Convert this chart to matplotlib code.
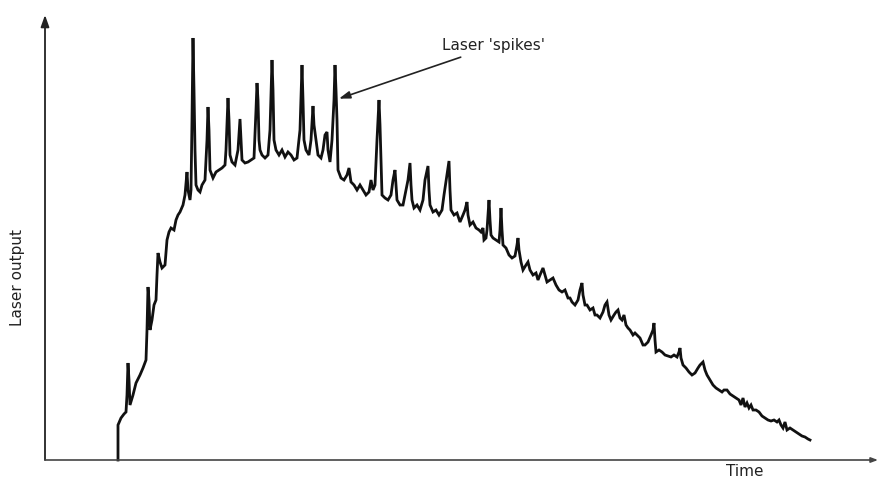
import matplotlib
matplotlib.use("Agg")
import matplotlib.pyplot as plt

# (arbitrary units)
time = [118, 118, 121, 124, 126, 127, 128, 129, 130, 133, 136, 140, 143, 146, 147, 148, 149, 150,
        152, 154, 156, 157, 158, 160, 162, 165, 167, 169, 171, 174, 176, 178, 180, 183, 185, 187,
        188, 190, 191, 192, 193, 194, 195, 196, 198, 200, 202, 205, 207, 208, 209, 210, 213, 216,
        219, 222, 225, 226, 228, 229, 230, 232, 235, 238, 240, 241, 242, 245, 248, 251, 254, 256,
        257, 258, 259, 260, 262, 265, 268, 270, 272, 273, 274, 276, 279, 282, 285, 288, 291, 294,
        297, 300, 302, 303, 304, 306, 309, 311, 313, 314, 316, 318, 321, 323, 325, 327, 328, 330,
        332, 334, 335, 336, 337, 338, 341, 344, 347, 349, 351, 354, 357, 360, 363, 366, 369, 371,
        373, 375, 377, 379, 380, 381, 382, 385, 388, 391, 393, 395, 396, 397, 400, 403, 405, 408,
        410, 411, 412, 414, 417, 420, 423, 425, 428, 429, 430, 433, 436, 439, 442, 444, 447, 449,
        450, 451, 454, 457, 460, 463, 465, 467, 468, 470, 473, 476, 479, 481, 483, 484, 486, 487,
        489, 490, 491, 493, 496, 499, 500, 501, 502, 503, 506, 509, 512, 515, 517, 518, 519, 521,
        523, 526, 528, 530, 533, 536, 538, 540, 543, 545, 547, 550, 553, 556, 559, 562, 565, 568,
        570, 572, 575, 578, 580, 582, 583, 585, 587, 590, 593, 595, 597, 600, 603, 605, 607, 609,
        611, 614, 616, 618, 620, 622, 624, 626, 628, 630, 633, 635, 637, 640, 643, 645, 648, 651,
        653, 654, 655, 656, 659, 662, 665, 668, 671, 674, 677, 679, 680, 681, 683, 686, 689, 692,
        695, 698, 700, 703, 705, 707, 710, 713, 716, 719, 722, 724, 727, 730, 733, 736, 739, 741,
        743, 745, 747, 749, 751, 753, 756, 759, 762, 765, 768, 771, 774, 777, 779, 781, 783, 785,
        787, 790, 793, 796, 799, 802, 805, 808, 810]

output = [0, 35, 42, 46, 48, 65, 97, 80, 55, 65, 77, 85, 92, 100, 130, 173, 160, 130,
          140, 155, 160, 185, 207, 198, 192, 195, 220, 228, 232, 230, 240, 245, 248, 255, 265, 288,
          270, 260, 270, 340, 422, 370, 310, 275, 270, 268, 275, 280, 320, 353, 330, 290, 282, 288,
          290, 292, 295, 310, 362, 340, 305, 298, 295, 310, 341, 320, 300, 297, 298, 300, 302, 350,
          377, 360, 320, 310, 305, 302, 305, 330, 400, 370, 320, 310, 305, 310, 303, 308, 305, 300,
          302, 330, 395, 360, 320, 310, 305, 320, 354, 335, 320, 305, 302, 310, 325, 328, 310, 298,
          320, 360, 395, 370, 340, 290, 282, 280, 285, 292, 278, 275, 270, 275, 270, 265, 268, 280,
          270, 275, 320, 360, 335, 300, 265, 262, 260, 265, 280, 290, 275, 260, 255, 255, 265, 280,
          297, 275, 260, 252, 255, 250, 260, 280, 294, 270, 255, 248, 250, 245, 250, 265, 285, 299,
          270, 250, 245, 247, 238, 245, 250, 258, 245, 235, 238, 232, 230, 228, 232, 220, 222, 230,
          260, 240, 225, 222, 220, 218, 230, 252, 230, 215, 212, 205, 202, 204, 215, 222, 210, 198,
          190, 195, 198, 190, 185, 187, 180, 185, 192, 185, 178, 180, 182, 175, 170, 168, 170, 162,
          162, 158, 155, 160, 170, 177, 165, 155, 155, 150, 152, 145, 145, 142, 148, 155, 158, 145,
          140, 145, 148, 150, 142, 140, 145, 135, 132, 130, 125, 127, 125, 122, 115, 115, 118, 125,
          130, 137, 120, 108, 110, 108, 105, 104, 103, 105, 103, 108, 112, 102, 95, 92, 88, 85,
          87, 92, 95, 98, 90, 85, 80, 75, 72, 70, 68, 70, 70, 66, 64, 62, 60, 55,
          62, 53, 57, 52, 55, 50, 50, 48, 44, 42, 40, 39, 40, 38, 40, 35, 32, 38,
          30, 32, 30, 28, 26, 24, 23, 21, 20]

y_label = "Laser output"
x_label = "Time"
annotation_text = "Laser 'spikes'"
annotated_spike = (335, 360)

W, H = 879, 486
fig = plt.figure(figsize=(W / 100, H / 100), dpi=100)
ax = fig.add_axes([45 / W, 26 / H, 833 / W, 445 / H])
ax.set_xlim(45, 878)
ax.set_ylim(0, 445)
ax.axis("off")

ax.plot(time, output, color="#111111", lw=2.0, solid_joinstyle="miter", clip_on=False)

# axes drawn as arrows
ax.annotate("", xy=(0, 1), xytext=(0, 0), xycoords="axes fraction",
            arrowprops=dict(arrowstyle="-|>,head_length=0.7,head_width=0.25",
                            color="#222222", lw=1.3, shrinkA=0, shrinkB=0))
ax.annotate("", xy=(1, 0), xytext=(0, 0), xycoords="axes fraction",
            arrowprops=dict(arrowstyle="-|>,head_length=0.4,head_width=0.15",
                            color="#444444", lw=1.2, shrinkA=0, shrinkB=0))

fig.text(18 / W, 1 - 277 / H, y_label, rotation=90, ha="center", va="center",
         fontsize=11, color="#222222")
fig.text(745 / W, 1 - 471 / H, x_label, ha="center", va="center",
         fontsize=11, color="#222222")

ax.annotate(annotation_text, xy=annotated_spike, xytext=(442, 414),
            textcoords="data", ha="left", va="center", fontsize=11, color="#222222",
            arrowprops=dict(arrowstyle="-|>,head_length=0.6,head_width=0.2",
                            color="#222222", lw=1.2, shrinkA=2, shrinkB=3))

fig.savefig("out.png", dpi=100, facecolor="white")
